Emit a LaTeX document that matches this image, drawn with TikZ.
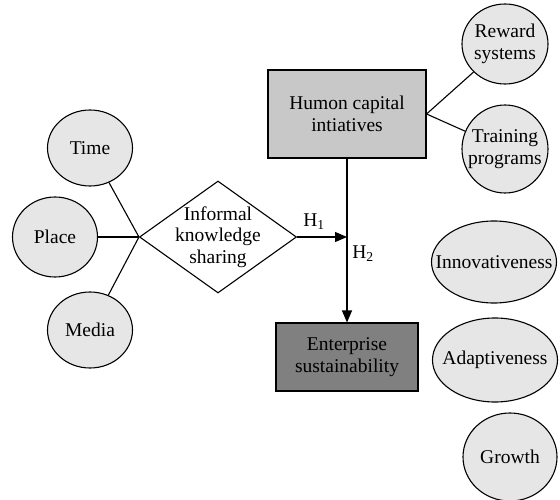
\documentclass[tikz,border=0pt]{standalone}
\usepackage{fontspec}
\setmainfont{Liberation Serif}
\usetikzlibrary{shapes.geometric,arrows.meta}
\definecolor{ellfill}{HTML}{E6E6E6}
\definecolor{humfill}{HTML}{C8C8C8}
\definecolor{entfill}{HTML}{808080}
\tikzset{
  txt/.style={font=\fontsize{19.5}{21.5}\selectfont, align=center, inner sep=0pt},
  base/.style={inner sep=0pt, line width=1.1pt},
  oval/.style={base, ellipse, draw, fill=ellfill},
  boxnode/.style={base, txt, rectangle, draw},
  dia/.style={base, diamond, draw, fill=white},
  conn/.style={line width=1.1pt},
  arr/.style={line width=1.1pt, -{Triangle[length=12pt,width=10pt]}},
  lab/.style={font=\fontsize{19.5}{21.5}\selectfont, inner sep=0pt},
  intext/.style={label={[txt]center:#1}}
}
\begin{document}
\begin{tikzpicture}[x=1pt,y=-1pt]
\useasboundingbox (0,0) rectangle (560,500);
% left ellipses
\node[oval, minimum width=85, minimum height=76, intext={Time}] (time) at (90,148) {};
\node[oval, minimum width=85, minimum height=80, intext={Place}] (place) at (55,237) {};
\node[oval, minimum width=85, minimum height=76, intext={Media}] (media) at (90,330) {};
% diamond
\node[dia, minimum width=157, minimum height=112, intext={Informal\\knowledge\\sharing}] (ks) at (218,237) {};
% boxes
\node[boxnode, fill=humfill, minimum width=158, minimum height=88] (hum) at (347,114) {Humon capital\\intiatives};
\node[boxnode, fill=entfill, minimum width=142, minimum height=68] (ent) at (347,357) {Enterprise\\sustainability};
% right ellipses
\node[oval, minimum width=86, minimum height=80, intext={Reward\\systems}] (rew) at (505,44) {};
\node[oval, minimum width=86, minimum height=88, intext={Training\\programs}] (tra) at (505,149) {};
\node[oval, minimum width=125, minimum height=82, intext={Innovativeness}] (inn) at (494,262) {};
\node[oval, minimum width=125, minimum height=84, intext={Adaptiveness}] (ada) at (495,360) {};
\node[oval, minimum width=94, minimum height=88, intext={Growth}] (gro) at (510,457) {};
% connectors
\draw[conn] (time) -- (ks.west);
\draw[conn] (place) -- (ks.west);
\draw[conn] (media) -- (ks.west);
\draw[conn] (hum.east) -- (rew);
\draw[conn] (hum.east) -- (tra);
\coordinate (j) at (347,237);
\draw[arr] (ks.east) -- (j);
\draw[arr] (hum.south) -- (ent.north);
\node[lab] (h1) at (314,222) {H\textsubscript{1}};
\node[lab] (h2) at (363,254) {H\textsubscript{2}};
\end{tikzpicture}
\end{document}
